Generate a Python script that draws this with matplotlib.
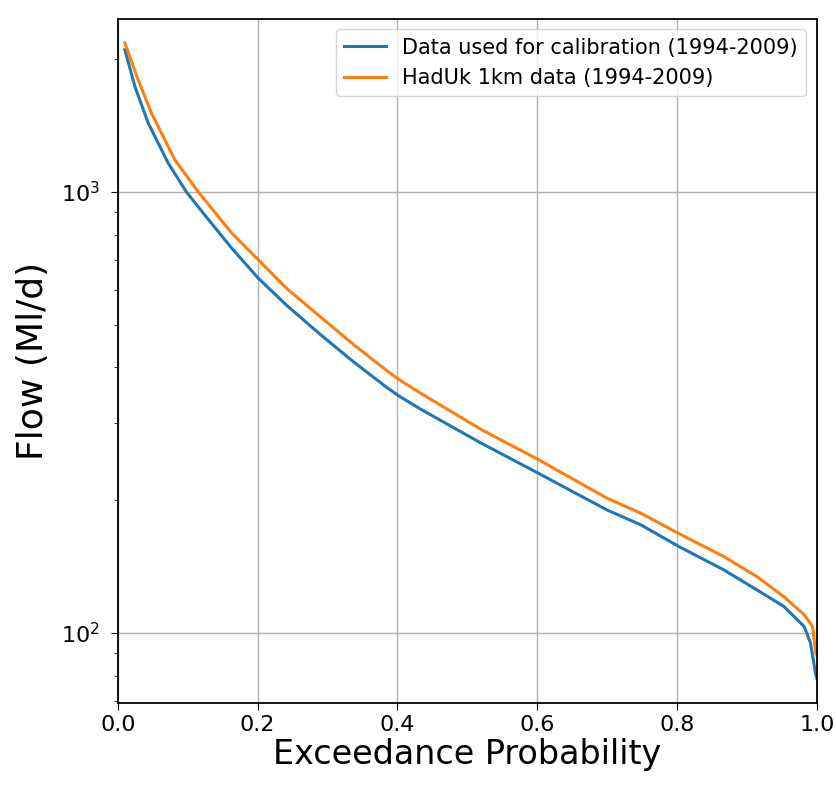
import matplotlib
matplotlib.use("Agg")
import matplotlib.pyplot as plt

# flow duration curves, exceedance probability vs flow (Ml/d)
prob_cal = [0.010, 0.0244, 0.0434, 0.072, 0.098, 0.1246, 0.163, 0.201, 0.2416,
            0.289, 0.337, 0.385, 0.4016, 0.4327, 0.5186, 0.602, 0.700, 0.7478,
            0.8027, 0.867, 0.915, 0.953, 0.982, 0.991, 0.9986, 1.0]
flow_cal = [2100, 1733, 1432, 1162, 1000, 885, 745, 637, 553,
            476, 412, 360, 345, 322, 270, 230, 190, 176,
            157, 139, 125, 114.8, 103.4, 94.9, 80.3, 79]

prob_had = [0.010, 0.029, 0.048, 0.0815, 0.115, 0.163, 0.201, 0.2416,
            0.289, 0.337, 0.385, 0.4016, 0.4327, 0.5186, 0.602, 0.700, 0.7478,
            0.8027, 0.867, 0.915, 0.953, 0.982, 0.994, 0.9986, 1.0]
flow_had = [2175, 1795, 1510, 1182, 1000, 806, 701, 604,
            522, 451, 393, 376, 350, 290, 247, 202, 187,
            168, 149, 134, 120.8, 110, 103.4, 89.9, 89]

fig = plt.figure(figsize=(8.36, 7.91), dpi=100)
ax = fig.add_axes([0.141, 0.111, 0.836, 0.865])

ax.plot(prob_cal, flow_cal, color="#1f77b4", linewidth=2.2,
        label="Data used for calibration (1994-2009)")
ax.plot(prob_had, flow_had, color="#ff7f0e", linewidth=2.2,
        label="HadUk 1km data (1994-2009)")

ax.set_yscale("log")
ax.set_xlim(0.0, 1.0)
ax.set_ylim(69.3, 2466)
ax.grid(True, which="major", color="#b0b0b0", linewidth=1.0)

ax.set_xlabel("Exceedance Probability", fontsize=24, labelpad=2)
ax.set_ylabel("Flow (Ml/d)", fontsize=26, labelpad=8)
ax.tick_params(axis="both", which="major", labelsize=16, length=5)
ax.tick_params(axis="y", which="major", pad=8)
ax.tick_params(axis="y", which="minor", length=3)
for s in ax.spines.values():
    s.set_linewidth(1.3)

ax.legend(loc="upper right", fontsize=15)

fig.savefig("out.png", dpi=100)
